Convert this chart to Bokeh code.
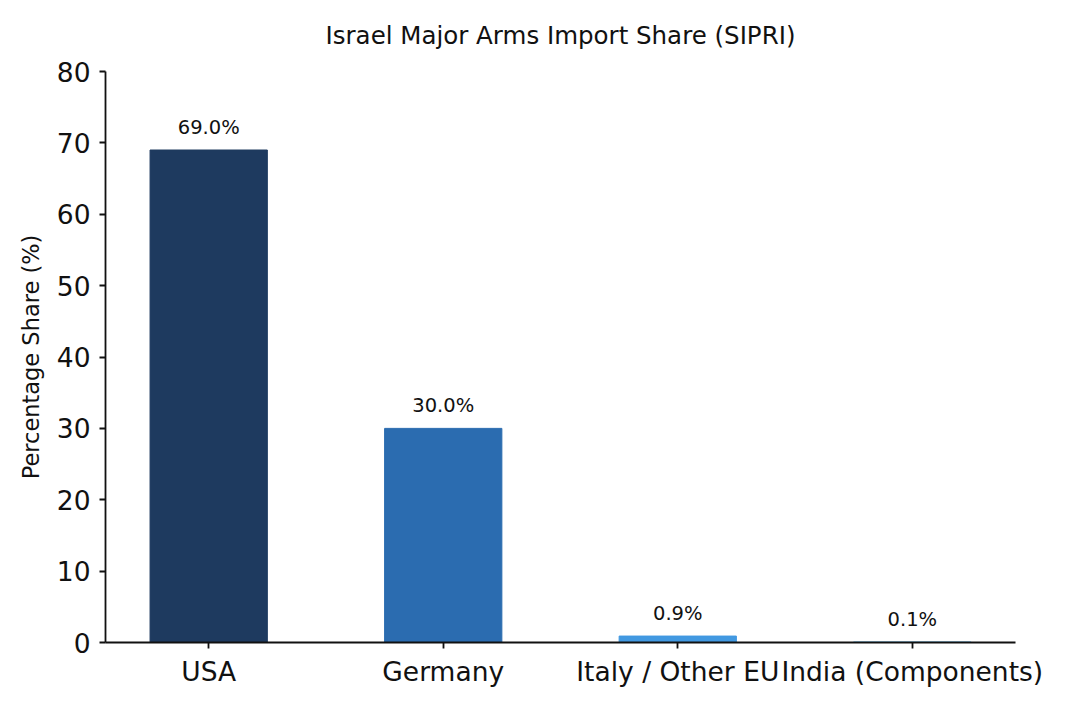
from bokeh.plotting import figure
from bokeh.models import ColumnDataSource, Range1d, FixedTicker, LabelSet
from bokeh.core.properties import value
from bokeh.embed import file_html
from bokeh.resources import INLINE

title_text = "Israel Major Arms Import Share (SIPRI)"
categories = ["USA", "Germany", "Italy / Other EU", "India (Components)"]
shares = [69.0, 30.0, 0.9, 0.1]
colors = ["#1e3a5f", "#2b6cb0", "#4299e1", "#90cdf4"]
y_ticks = [0, 10, 20, 30, 40, 50, 60, 70, 80]

FONT = "DejaVu Sans"

xs = list(range(len(categories)))
src = ColumnDataSource(dict(
    x=xs, top=shares, color=colors,
    label=[f"{v:.1f}%" for v in shares],
))

p = figure(width=1060, height=700, output_backend="svg", toolbar_location=None,
           x_range=Range1d(-0.44, len(categories) - 1 + 0.44),
           y_range=Range1d(0, 80),
           title=title_text)
p.min_border_left = 105
p.min_border_right = 45
p.min_border_top = 71
p.min_border_bottom = 58
p.outline_line_color = None
p.xgrid.grid_line_color = None
p.ygrid.grid_line_color = None
p.background_fill_color = "white"
p.border_fill_color = "white"

p.title.align = "center"
p.title.vertical_align = "top"
p.title.text_font = FONT
p.title.text_font_size = "24.5px"
p.title.text_font_style = "normal"
p.title.text_color = "#111111"
p.title.standoff = 40

p.vbar(x="x", top="top", width=0.5, bottom=0, color="color", source=src)

labels = LabelSet(x="x", y="top", text="label", source=src, y_offset=11,
                  text_align="center", text_baseline="bottom",
                  text_font=value(FONT), text_font_size=value("19.5px"),
                  text_color="#111111")
p.add_layout(labels)

p.xaxis.ticker = FixedTicker(ticks=xs)
p.xaxis.major_label_overrides = {i: c for i, c in enumerate(categories)}
p.yaxis.ticker = FixedTicker(ticks=y_ticks)
p.yaxis.axis_label = "Percentage Share (%)"

for ax in (p.xaxis, p.yaxis):
    ax.axis_line_color = "#111111"
    ax.axis_line_width = 1.8
    ax.major_tick_line_color = "#111111"
    ax.major_tick_line_width = 1.8
    ax.major_tick_out = 6
    ax.major_tick_in = 0
    ax.minor_tick_line_color = None
    ax.major_label_text_font = FONT
    ax.major_label_text_font_size = "26.5px"
    ax.major_label_text_color = "#111111"
    ax.axis_label_text_font = FONT
    ax.axis_label_text_font_size = "22.5px"
    ax.axis_label_text_font_style = "normal"
    ax.axis_label_text_color = "#111111"

p.xaxis.major_label_standoff = 7
p.yaxis.major_label_standoff = 9
p.yaxis.axis_label_standoff = 10

open("out.html", "w").write(file_html(p, INLINE))
